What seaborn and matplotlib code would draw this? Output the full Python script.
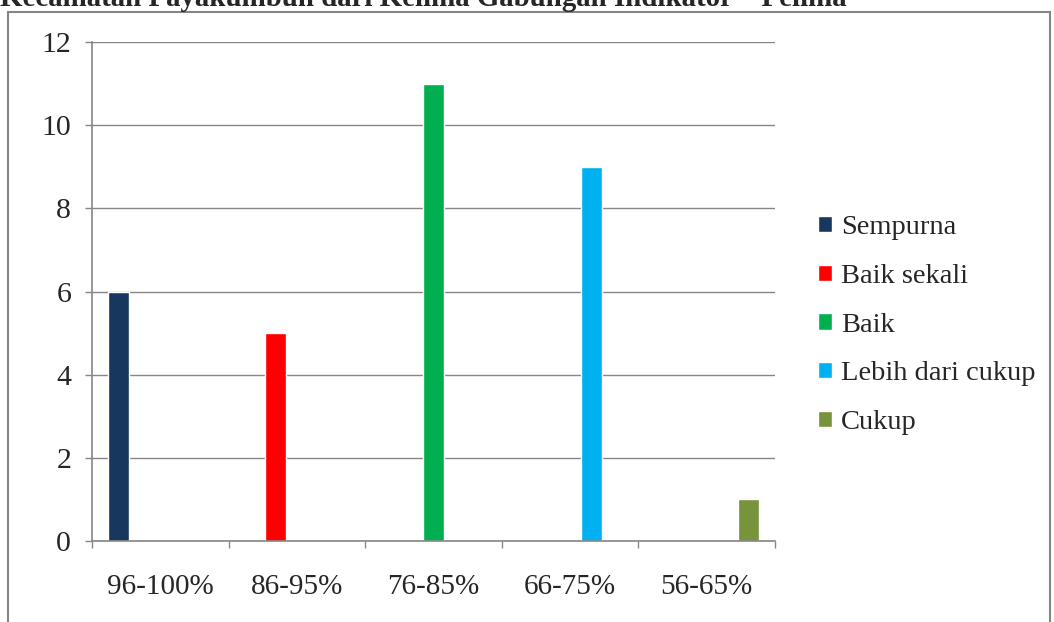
import pandas as pd
import seaborn as sns
import matplotlib.pyplot as plt
from matplotlib.patches import Rectangle

# data
categories = ['96-100%', '86-95%', '76-85%', '66-75%', '56-65%']
levels = ['Sempurna', 'Baik sekali', 'Baik', 'Lebih dari cukup', 'Cukup']
counts = [6, 5, 11, 9, 1]
colors = ['#17375E', '#FF0000', '#00B050', '#00B0F0', '#77933C']
title = 'Kecamatan Payakumbuh dari Kelima Gabungan Indikator \u2013 Pelima'

df = pd.DataFrame({'Kategori': categories, 'Predikat': levels, 'Jumlah': counts})

sns.set_style('white')
plt.rcParams['font.family'] = ['Liberation Serif', 'DejaVu Serif']

grey = '#868686'
fig = plt.figure(figsize=(10.54, 6.22), dpi=100)
ax = fig.add_axes([92 / 1054, 1 - 541 / 622, (775 - 92) / 1054, (541 - 42) / 622])

sns.barplot(data=df, x='Kategori', y='Jumlah', hue='Predikat',
            hue_order=levels, order=categories, palette=colors,
            width=0.77, dodge=True, saturation=1, ax=ax)

ax.set_ylim(0, 12)
ax.set_xlim(-0.5, 4.5)
ax.set_yticks(range(0, 13, 2))
ax.yaxis.grid(True, color=grey, lw=1)
ax.set_axisbelow(True)
ax.set_xlabel('')
ax.set_ylabel('')
for s in ['top', 'right']:
    ax.spines[s].set_visible(False)
for s in ['left', 'bottom']:
    ax.spines[s].set_color(grey)
    ax.spines[s].set_linewidth(1.2)

ax.tick_params(axis='y', length=5, color=grey, width=1, pad=10, labelsize=21.5, left=True)
ax.set_xticks([i - 0.5 for i in range(6)], minor=True)
ax.tick_params(axis='x', which='minor', length=5, color=grey, width=1, bottom=True)
ax.tick_params(axis='x', which='major', length=0, pad=24, labelsize=21)

ax.legend(loc='center left', bbox_to_anchor=(818 / 1054, 1 - 325 / 622),
          bbox_transform=fig.transFigure, frameon=False, fontsize=20.5,
          handlelength=0.5, handleheight=0.5, handletextpad=0.3,
          labelspacing=0.83, borderpad=0, borderaxespad=0)

# outer chart border
fig.patches.append(Rectangle((8 / 1054, -0.02), (1050 - 8) / 1054, 1.02 - 12 / 622,
                             transform=fig.transFigure, fill=False,
                             edgecolor=grey, lw=1.5))

fig.text(0.0, 1 - 6 / 622, title, fontsize=20.8, fontweight='bold',
         ha='left', va='baseline')

plt.savefig('out.png', dpi=100)
